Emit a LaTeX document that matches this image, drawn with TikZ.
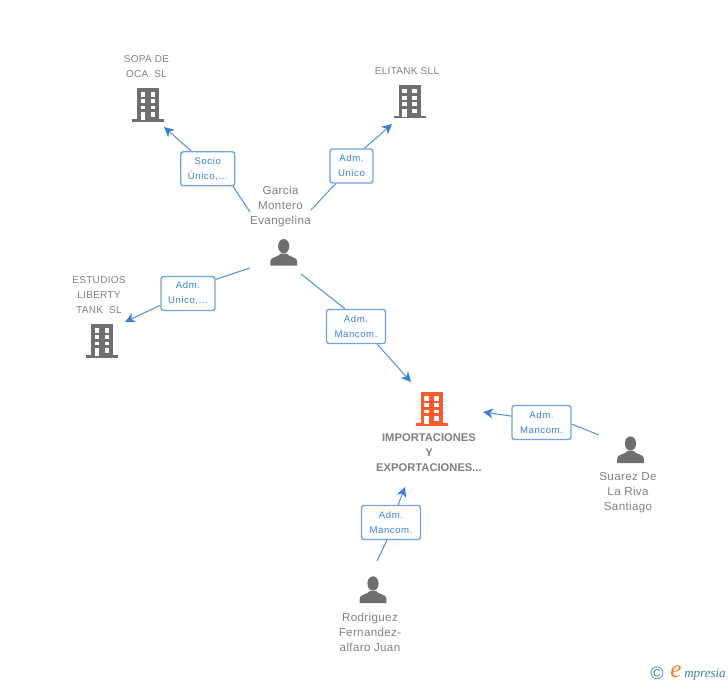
\documentclass[tikz,border=0pt]{standalone}
\usepackage{fontspec}
\setmainfont{Liberation Sans}
\newfontfamily\tagfont[LetterSpace=6]{Liberation Sans}
\newfontfamily\namefont[LetterSpace=3]{Liberation Sans}
\newfontfamily\logofont{Liberation Serif}
\usetikzlibrary{arrows.meta}
\definecolor{iconGray}{HTML}{6F6F6F}
\definecolor{textGray}{HTML}{808080}
\definecolor{tagBlue}{HTML}{3B7FDD}
\definecolor{tagEdge}{HTML}{6FA3E8}
\definecolor{lineBlue}{HTML}{5C96E2}
\definecolor{mainOrange}{HTML}{FF5A2C}
\definecolor{logoTeal}{HTML}{3F7F9F}
\tikzset{
  tagbox/.style={draw=tagEdge,line width=1.4pt,rounded corners=2.5pt,fill=white,text=tagBlue,
    minimum height=34pt,inner sep=0pt,align=center,font=\fontsize{9.6}{15}\tagfont},
  company/.style={text=textGray,align=center,inner sep=0pt,font=\fontsize{10}{15}\namefont},
  mainco/.style={text=textGray,align=center,inner sep=0pt,font=\fontsize{11.2}{15}\selectfont\bfseries},
  person/.style={text=textGray,align=center,inner sep=0pt,font=\fontsize{11.6}{15}\namefont},
  link/.style={draw=lineBlue,line width=1.1pt},
  linkto/.style={draw=lineBlue,line width=1.1pt,-{Stealth[length=10pt,width=10pt,inset=3pt,color=tagBlue]}},
  pics/bldg/.style={code={
    \fill[#1] (-11,0) rectangle (11,32);
    \fill[#1] (-16,31) rectangle (16,33.4);
    \foreach \y/\h in {4/4.4,10.7/4.4,17.3/3.8}{
      \fill[white] (-7.7,\y) rectangle ++(4.7,\h);
      \fill[white] (2.3,\y) rectangle ++(4.7,\h);
    }
    \fill[white] (-7.7,24) rectangle ++(4.7,8);
    \fill[white] (2.3,24) rectangle ++(4.7,4.4);
  }},
  pics/human/.style={code={
    \fill[iconGray] (0,-19.5) ellipse (5.6 and 7.2);
    \fill[iconGray] (-13.4,0) -- (-13.2,-5.5) .. controls (-12.5,-8.5) and (-5,-9) .. (-3,-12)
      -- (3,-12) .. controls (5,-9) and (12.5,-8.5) .. (13.2,-5.5) -- (13.4,0) -- cycle;
  }}
}
\begin{document}
\begin{tikzpicture}[x=1pt,y=-1pt]
  \useasboundingbox (0,0) rectangle (728,685);
  \pic at (148.3,88.3) {bldg=iconGray};
  \pic at (410,85) {bldg=iconGray};
  \pic at (102.3,324.3) {bldg=iconGray};
  \pic at (432,392.3) {bldg=mainOrange};
  \pic at (283.7,265.7) {human};
  \pic at (630.5,463) {human};
  \pic at (373,603) {human};
  \node[company] (sopa) at (146.5,67) {SOPA DE\\OCA\ \ SL};
  \node[company] (elitank) at (407,71.5) {ELITANK SLL};
  \node[company] (estudios) at (99,295.5) {ESTUDIOS\\LIBERTY\\TANK\ \ SL};
  \node[mainco] (importaciones) at (429,452.5) {IMPORTACIONES\\Y\\EXPORTACIONES...};
  \node[person] (garcia) at (280.5,206) {Garcia\\Montero\\Evangelina};
  \node[person] (suarez) at (628,493) {Suarez De\\La Riva\\Santiago};
  \node[person] (rodriguez) at (370,632) {Rodriguez\\Fernandez-\\alfaro Juan};
  \node[tagbox,minimum width=54pt] (socio) at (207.75,168.75) {Socio\\Único,...};
  \node[tagbox,minimum width=43pt] (unico) at (351.5,166) {Adm.\\Unico};
  \node[tagbox,minimum width=54pt] (unicodos) at (188,293.5) {Adm.\\Unico,...};
  \node[tagbox,minimum width=59pt] (mancom) at (356,326.5) {Adm.\\Mancom.};
  \node[tagbox,minimum width=59pt] (mancomdos) at (541.5,422.5) {Adm.\\Mancom.};
  \node[tagbox,minimum width=59pt] (mancomtres) at (391,522.5) {Adm.\\Mancom.};
  \coordinate (g1) at (250,212);
  \coordinate (g2) at (311,210);
  \coordinate (g3) at (250,268);
  \coordinate (g4) at (301,274);
  \coordinate (s1) at (599,435);
  \coordinate (r1) at (377,561);
  \coordinate (t1) at (164,127);
  \coordinate (t2) at (392,124);
  \coordinate (t3) at (125,322);
  \coordinate (t4) at (411,382);
  \coordinate (t5) at (483,412);
  \coordinate (t6) at (405,487);
  \draw[link] (g1) -- (socio.-35);
  \draw[linkto] (socio.133) -- (t1);
  \draw[link] (g2) -- (unico.228);
  \draw[linkto] (unico.54) -- (t2);
  \draw[link] (g3) -- (unicodos.27);
  \draw[linkto] (unicodos.203) -- (t3);
  \draw[link] (g4) -- (mancom.122);
  \draw[linkto] (mancom.-40) -- (t4);
  \draw[link] (s1) -- (mancomdos.-3);
  \draw[linkto] (mancomdos.168) -- (t5);
  \draw[link] (r1) -- (mancomtres.257);
  \draw[linkto] (mancomtres.68) -- (t6);
  \node[text=logoTeal,inner sep=0pt,font=\fontsize{18}{18}\selectfont] (copyr) at (657,673) {©};
  \node[text=mainOrange!80!yellow,inner sep=0pt,font=\fontsize{25}{25}\logofont\itshape] (logoe) at (676,672) {e};
  \node[text=logoTeal,inner sep=0pt,font=\fontsize{13}{13}\logofont\itshape] (logotext) at (705,675) {mpresia};
\end{tikzpicture}
\end{document}
